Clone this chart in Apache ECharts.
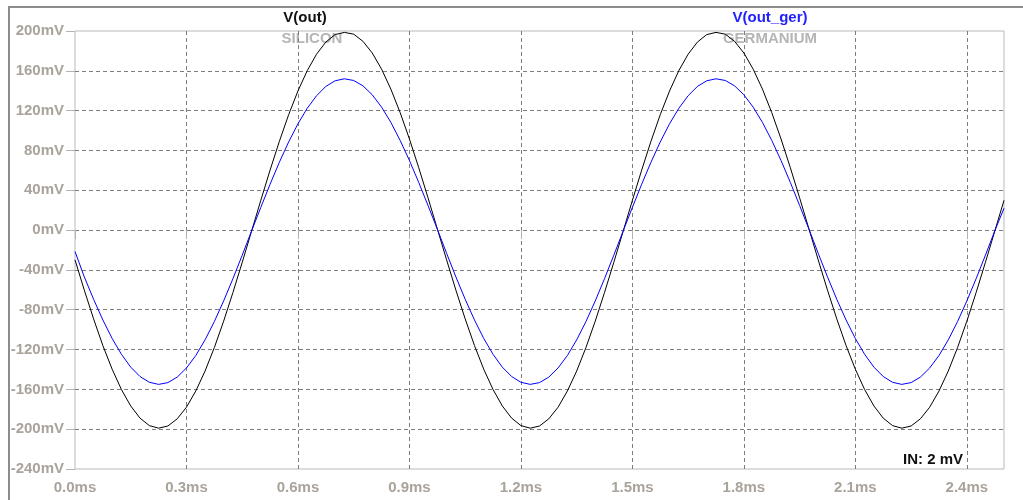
<!DOCTYPE html>
<html>
<head>
<meta charset="utf-8">
<title>V(out) / V(out_ger)</title>
<script src="https://cdn.jsdelivr.net/npm/echarts@6/dist/echarts.min.js"></script>
<style>
  html, body { margin: 0; padding: 0; background: #ffffff; }
  #chart { width: 1023px; height: 500px; }
</style>
</head>
<body>
<div id="chart"></div>
<script>
// Transient output of the two diode stages, sampled every 0.025 ms (0 .. 2.5 ms), in mV.
const sampleStepMs = 0.025;

// V(out) — silicon stage
const vOut = [
  -29.9, -60.3, -89.2, -116.0, -139.8, -160.2, -176.7, -188.9, -196.4, -199.0,
  -196.8, -189.6, -177.9, -161.7, -141.6, -118.0, -91.5, -62.7, -32.4, -1.3,
  29.9, 60.3, 89.2, 116.0, 139.8, 160.2, 176.7, 188.9, 196.4, 198.6,
  196.8, 189.6, 177.9, 161.7, 141.6, 118.0, 91.5, 62.7, 32.4, 1.3,
  -29.9, -60.3, -89.2, -116.0, -139.8, -160.2, -176.7, -188.9, -196.4, -199.0,
  -196.8, -189.6, -177.9, -161.7, -141.6, -118.0, -91.5, -62.7, -32.4, -1.3,
  29.9, 60.3, 89.2, 116.0, 139.8, 160.2, 176.7, 188.9, 196.4, 198.6,
  196.8, 189.6, 177.9, 161.7, 141.6, 118.0, 91.5, 62.7, 32.4, 1.3,
  -29.9, -60.3, -89.2, -116.0, -139.8, -160.2, -176.7, -188.9, -196.4, -199.0,
  -196.8, -189.6, -177.9, -161.7, -141.6, -118.0, -91.5, -62.7, -32.4, -1.3,
  29.9
];

// V(out_ger) — germanium stage
const vOutGer = [
  -21.5, -47.0, -69.5, -90.3, -108.9, -124.8, -137.7, -147.1, -152.9, -155.0,
  -153.2, -147.7, -138.5, -126.0, -110.3, -91.9, -71.2, -48.8, -25.2, -1.0,
  22.8, 46.1, 68.2, 88.6, 106.8, 122.4, 135.0, 144.3, 150.0, 152.0,
  150.3, 144.9, 135.9, 123.5, 108.2, 90.1, 69.9, 47.9, 24.7, 1.0,
  -23.3, -47.0, -69.5, -90.3, -108.9, -124.8, -137.7, -147.1, -152.9, -155.0,
  -153.2, -147.7, -138.5, -126.0, -110.3, -91.9, -71.2, -48.8, -25.2, -1.0,
  22.8, 46.1, 68.2, 88.6, 106.8, 122.4, 135.0, 144.3, 150.0, 152.0,
  150.3, 144.9, 135.9, 123.5, 108.2, 90.1, 69.9, 47.9, 24.7, 1.0,
  -23.3, -47.0, -69.5, -90.3, -108.9, -124.8, -137.7, -147.1, -152.9, -155.0,
  -153.2, -147.7, -138.5, -126.0, -110.3, -91.9, -71.2, -48.8, -25.2, -1.0,
  22.0
];

// Time-axis tick positions (ms)
const timeTicksMs = [0, 0.3, 0.6, 0.9, 1.2, 1.5, 1.8, 2.1, 2.4];

const traceNames = ['V(out)', 'V(out_ger)'];
const traceNotes = ['SILICON', 'GERMANIUM'];
const inputNote = 'IN: 2 mV';

const FONT = '"Liberation Sans", Arial, "DejaVu Sans", sans-serif';
const axisLabelStyle = { color: '#a9a39b', fontFamily: FONT, fontSize: 15, fontWeight: 'bold' };
const gridDash = { color: '#7d7d7d', width: 1, type: [4, 3] };

const toPairs = arr => arr.map((v, i) => [+(i * sampleStepMs).toFixed(3), v]);

const chart = echarts.init(document.getElementById('chart'), null, { renderer: 'canvas' });

chart.setOption({
  animation: false,
  backgroundColor: '#ffffff',
  grid: {
    left: 75, top: 31, right: 19, bottom: 31,
    show: true, borderColor: '#b9b9b9', borderWidth: 1, backgroundColor: 'transparent'
  },
  xAxis: {
    type: 'value', min: 0, max: 2.5, interval: 0.3,
    axisLine: { show: false },
    axisTick: { show: true, length: 9, lineStyle: { color: '#b3b3b3' }, customValues: timeTicksMs },
    axisLabel: Object.assign({ customValues: timeTicksMs, margin: 11, formatter: v => v.toFixed(1) + 'ms' }, axisLabelStyle),
    splitLine: { show: true, showMinLine: false, showMaxLine: true, lineStyle: gridDash }
  },
  yAxis: {
    type: 'value', min: -240, max: 200, interval: 40,
    axisLine: { show: false },
    axisTick: { show: true, length: 9, lineStyle: { color: '#b3b3b3' } },
    axisLabel: Object.assign({ margin: 11, formatter: v => v + 'mV' }, axisLabelStyle),
    splitLine: { show: true, showMinLine: false, showMaxLine: false, lineStyle: gridDash }
  },
  graphic: [
    { type: 'rect', silent: true, shape: { x: 9, y: 7, width: 1030, height: 500 },
      style: { fill: 'none', stroke: '#8c8c8c', lineWidth: 2 } },
    { type: 'text', silent: true, x: 305, y: 18,
      style: { text: traceNames[0], fill: '#111111', font: 'bold 15px ' + FONT, align: 'center', verticalAlign: 'middle' } },
    { type: 'text', silent: true, x: 312, y: 39,
      style: { text: traceNotes[0], fill: '#b5b5b5', font: 'bold 15px ' + FONT, align: 'center', verticalAlign: 'middle' } },
    { type: 'text', silent: true, x: 770, y: 18,
      style: { text: traceNames[1], fill: '#1f1fff', font: 'bold 15px ' + FONT, align: 'center', verticalAlign: 'middle' } },
    { type: 'text', silent: true, x: 770, y: 39,
      style: { text: traceNotes[1], fill: '#b5b5b5', font: 'bold 15px ' + FONT, align: 'center', verticalAlign: 'middle' } },
    { type: 'text', silent: true, x: 963, y: 460,
      style: { text: inputNote, fill: '#111111', font: 'bold 15px ' + FONT, align: 'right', verticalAlign: 'middle' } }
  ],
  series: [
    {
      name: traceNames[0], type: 'line', data: toPairs(vOut),
      showSymbol: false, smooth: false, z: 3,
      lineStyle: { color: '#000000', width: 1 }
    },
    {
      name: traceNames[1], type: 'line', data: toPairs(vOutGer),
      showSymbol: false, smooth: false, z: 4,
      lineStyle: { color: '#0000ff', width: 1 }
    }
  ]
});
</script>
</body>
</html>
